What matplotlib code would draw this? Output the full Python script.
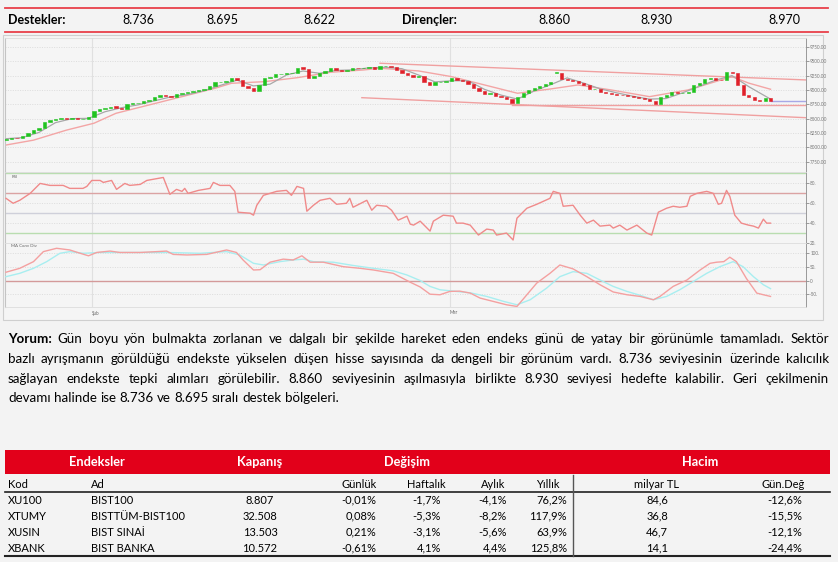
import matplotlib
matplotlib.use("Agg")
import matplotlib.pyplot as plt
from matplotlib.lines import Line2D
from matplotlib.patches import Rectangle

W, H = 838, 562
plt.rcParams['font.family'] = ['Lato', 'DejaVu Sans']

# ---- header levels
supports = ['8.736', '8.695', '8.622']
resistances = ['8.860', '8.930', '8.970']

# ---- candles
closes = [8150, 8165, 8160, 8200, 8250, 8300, 8330, 8440, 8470, 8500,
          8510, 8500, 8505, 8495, 8500, 8520, 8640, 8660, 8690, 8710,
          8680, 8670, 8760, 8770, 8780, 8800, 8830, 8870, 8910, 8890,
          8870, 8930, 8945, 8960, 8990, 9000, 9010, 9070, 9130, 9140,
          9150, 9210, 9170, 9060, 9030, 8990, 9080, 9200, 9230, 9270,
          9285, 9290, 9300, 9390, 9370, 9210, 9250, 9290, 9330, 9380,
          9340, 9330, 9345, 9380, 9375, 9385, 9400, 9370, 9410, 9420,
          9400, 9340, 9290, 9260, 9230, 9250, 9130, 9080, 9130, 9135,
          9150, 9200, 9180, 9150, 9100, 9040, 8980, 8930, 8950, 8890,
          8870, 8850, 8770, 8880, 8950, 9000, 9040, 9060, 9100, 9130,
          9310, 9190, 9170, 9150, 9120, 9080, 9010, 9020, 8970, 8950,
          8930, 8920, 8905, 8890, 8870, 8860, 8850, 8800, 8760, 8880,
          8920, 8960, 8950, 8955, 8970, 9080, 9120, 9190, 9200, 9180,
          9170, 9320, 9300, 9080, 8920, 8870, 8830, 8810, 8860, 8807]
opens = [8130, 8150, 8170, 8165, 8200, 8250, 8300, 8340, 8440, 8470,
         8500, 8515, 8495, 8505, 8495, 8500, 8520, 8640, 8660, 8690,
         8715, 8685, 8670, 8760, 8770, 8780, 8800, 8830, 8870, 8915,
         8895, 8870, 8930, 8945, 8960, 8990, 9000, 9010, 9070, 9130,
         9140, 9150, 9215, 9170, 9060, 9030, 8990, 9080, 9200, 9230,
         9270, 9285, 9290, 9300, 9395, 9370, 9210, 9250, 9290, 9330,
         9385, 9340, 9330, 9345, 9385, 9375, 9385, 9400, 9370, 9410,
         9425, 9400, 9340, 9290, 9260, 9230, 9250, 9130, 9080, 9130,
         9135, 9150, 9200, 9180, 9150, 9100, 9040, 8980, 8930, 8950,
         8890, 8870, 8850, 8770, 8880, 8950, 9000, 9040, 9060, 9100,
         9290, 9300, 9190, 9170, 9150, 9120, 9080, 9010, 9020, 8970,
         8950, 8930, 8920, 8905, 8890, 8870, 8860, 8850, 8800, 8760,
         8880, 8920, 8960, 8950, 8955, 8970, 9080, 9120, 9190, 9200,
         9180, 9170, 9320, 9300, 9080, 8920, 8870, 8830, 8810, 8860]

ma_short_idx = [0, 3, 6, 9, 12, 15, 18, 21, 24, 27, 30, 33, 36, 39, 42, 45, 48, 51, 54, 57,
                60, 63, 66, 69, 72, 75, 78, 81, 84, 87, 90, 93, 96, 99, 102, 105, 108, 111,
                114, 117, 120, 123, 126, 129, 132, 135, 139]
ma_short_val = [8150, 8170, 8260, 8430, 8500, 8505, 8620, 8690, 8740, 8810, 8880, 8920, 8985,
                9080, 9170, 9070, 9100, 9260, 9330, 9290, 9340, 9350, 9385, 9395, 9370, 9260,
                9140, 9160, 9160, 9010, 8910, 8840, 8980, 9090, 9210, 9120, 9020, 8950, 8890,
                8840, 8850, 8950, 9060, 9170, 9250, 9060, 8840]

ma_long_idx = [0, 5, 11, 16, 20, 26, 32, 38, 41, 47, 53, 59, 65, 68, 75, 81, 87, 93, 99,
               104, 110, 117, 124, 132, 135, 139]
ma_long_val = [8040, 8125, 8300, 8420, 8593, 8738, 8883, 9029, 9116, 9144, 9214, 9308, 9348,
               9378, 9331, 9232, 9087, 8942, 9017, 9087, 9000, 8883, 9000, 9232, 9120, 9012]

# analyst trend lines: (start idx, start price, end idx, end price)
trend_upper = (68, 9465, 145.5, 9174)
trend_lower = (64.7, 8865, 145.5, 8516)
support_line = (92, 8745, 145.5, 8745)
last_price = 8807

rsi_idx = [0, 1.3, 2.5, 4.4, 6.2, 8, 10.4, 11.6, 14, 14.7, 15.6, 17.1, 17.7, 19.2, 20.1, 21.6,
           22.5, 24.4, 25.6, 28.6, 29.8, 31, 32, 32.5, 33.1, 35, 37.1, 37.7, 38.9, 40.7, 41.6,
           42.2, 44.4, 45, 45.6, 46.8, 49.2, 51, 51.9, 52.9, 54.1, 54.7, 55.9, 57.1, 58.9,
           60.1, 61.9, 62.5, 63.1, 65.6, 66.5, 67.4, 69.2, 70.1, 71.3, 72.9, 73.5, 74.1, 75.3,
           77.1, 77.7, 79.5, 81.3, 81.9, 83.1, 84.4, 85.9, 87.4, 88.6, 89.2, 91, 92.2, 92.9,
           94.7, 96.5, 98.9, 99.5, 100.7, 101.3, 103.1, 104.4, 105.6, 106.8, 108, 109.8, 110.4,
           111.6, 112.9, 114.7, 116.5, 117.4, 118.6, 120.1, 121.3, 122.5, 123.8, 124.4, 125.6,
           127.4, 128.6, 129.5, 130.1, 131, 131.6, 132.5, 133.7, 135, 135.9, 136.8, 137.7,
           138.3, 139]
rsi_val = [65, 60, 63, 70, 80, 78, 78, 75, 75, 77, 83, 83, 81, 83, 74, 80,
           78, 79, 83, 86, 69, 74, 72, 75, 70, 73, 75, 81, 78, 78, 72,
           51, 50, 48, 58, 68, 72, 73, 68, 77, 75, 52, 58, 63, 65,
           59, 60, 65, 56, 63, 53, 58, 57, 53, 43, 47, 39, 38, 42,
           32, 42, 48, 47, 40, 40, 38, 28, 34, 33, 28, 30, 23, 45,
           55, 59, 65, 72, 70, 57, 58, 48, 40, 43, 37, 38, 35,
           38, 33, 38, 30, 28, 51, 55, 57, 56, 57, 67, 70,
           72, 70, 59, 60, 73, 67, 48, 40, 38, 37, 35, 44,
           40, 40]

macd_idx = [0, 2.5, 5, 6.8, 9.2, 11.6, 13.5, 15, 16.5, 18.9, 20.7, 24.4, 27.4, 29.2, 30.4,
            32.9, 36.5, 40.1, 41.9, 43.1, 45, 46.2, 48, 50.4, 52.2, 53.8, 55.3, 57.7, 59.5,
            61.3, 64.4, 66.8, 70.4, 73.5, 75.3, 77.1, 78.9, 80.7, 82.5, 84.4, 86.2, 88.6, 91,
            92.9, 94.7, 96.5, 98.9, 100.7, 103.1, 105.6, 108, 110.4, 112.9, 115.3, 117.7,
            118.9, 121.3, 123.8, 126.2, 128, 129.2, 130.5, 131.6, 132.8, 134.6, 136.5, 137.7, 139]
macd_val = [30, 44, 68, 104, 116, 110, 98, 89, 101, 106, 101, 101, 104, 106, 94,
            92, 94, 110, 101, 74, 38, 39, 66, 77, 74, 89, 66, 66, 58,
            50, 44, 38, 26, -6, -23, -49, -51, -39, -38, -45, -63, -75, -87,
            -93, -51, -9, 26, 56, 42, 14, -15, -41, -51, -57, -69,
            -57, -21, 2, 38, 62, 66, 68, 84, 68, 8, -45, -51, -57]
signal_idx = [0, 2.5, 5, 7.4, 9.8, 11.6, 14.1, 17.1, 23.2, 29.2, 35.3, 40.1, 42.5, 45, 46.8,
              49.8, 52.2, 54.1, 55.9, 59.5, 63.2, 66.8, 70.4, 72.9, 75.3, 77.1, 78.9, 81.3,
              84.4, 87.4, 90.5, 92.9, 95.3, 98.3, 100.7, 103.1, 105.6, 108, 110.4, 112.9,
              115.3, 117.7, 120.1, 122.5, 125, 127.4, 129.8, 132.2, 134, 135.9, 137.7, 139]
signal_val = [14, 26, 44, 68, 98, 104, 98, 101, 101, 101, 98, 104, 92, 62, 56,
              68, 74, 77, 68, 66, 54, 44, 35, 20, 0, -21, -33, -38,
              -44, -57, -75, -87, -69, -27, 14, 32, 26, 2, -21, -39,
              -53, -69, -57, -33, -3, 26, 50, 68, 50, 14, -15, -29]

price_ticks = [7750, 8000, 8250, 8500, 8750, 9000, 9250, 9500, 9750]
rsi_ticks = [20, 40, 60, 80]
macd_ticks = [-50, 0, 50, 100]
date_ticks = [15.6, 80.7]
date_labels = ['Şub', 'Mar']

# ---- comment text
comment_lines = [
    "Yorum: Gün boyu yön bulmakta zorlanan ve dalgalı bir şekilde hareket eden endeks günü de yatay bir görünümle tamamladı. Sektör",
    "bazlı ayrışmanın görüldüğü endekste yükselen düşen hisse sayısında da dengeli bir görünüm vardı. 8.736 seviyesinin üzerinde kalıcılık",
    "sağlayan endekste tepki alımları görülebilir. 8.860 seviyesinin aşılmasıyla birlikte 8.930 seviyesi hedefte kalabilir. Geri çekilmenin",
    "devamı halinde ise 8.736 ve 8.695 sıralı destek bölgeleri.",
]

# ---- table
groups = ['Endeksler', 'Kapanış', 'Değişim', 'Hacim']
columns = ['Kod', 'Ad', 'Günlük', 'Haftalık', 'Aylık', 'Yıllık', 'milyar TL', 'Gün.Değ']
codes = ['XU100', 'XTUMY', 'XUSIN', 'XBANK']
names = ['BIST100', 'BISTTÜM-BIST100', 'BIST SINAİ', 'BIST BANKA']
close_tbl = ['8.807', '32.508', '13.503', '10.572']
daily = ['-0,01%', '0,08%', '0,21%', '-0,61%']
weekly = ['-1,7%', '-5,3%', '-3,1%', '4,1%']
monthly = ['-4,1%', '-8,2%', '-5,6%', '4,4%']
yearly = ['76,2%', '117,9%', '63,9%', '125,8%']
volume = ['84,6', '36,8', '46,7', '14,1']
vol_chg = ['-12,6%', '-15,5%', '-12,1%', '-24,4%']

BG = '#f3f3f3'
RED = '#e2001a'

fig = plt.figure(figsize=(W / 100, H / 100), dpi=100)
fig.patch.set_facecolor(BG)


def fx(x):
    return x / W


def fy(y):
    return 1 - y / H


def add_ax(x0, y0, x1, y1):
    return fig.add_axes([fx(x0), fy(y1), (x1 - x0) / W, (y1 - y0) / H])


def hline(x0, x1, y, color, lw):
    fig.add_artist(Line2D([fx(x0), fx(x1)], [fy(y), fy(y)], color=color, lw=lw))


# ---------------- header strip
hline(5, 828, 7.5, '#e8404a', 1.3)
hline(5, 828, 32, '#e8404a', 1.3)
fig.text(fx(8), fy(20.5), 'Destekler:', fontsize=9, fontweight='bold', va='center')
fig.text(fx(402), fy(20.5), 'Dirençler:', fontsize=9, fontweight='bold', va='center')
for v, xc in zip(supports + resistances, [138, 222, 319, 554, 656, 784]):
    fig.text(fx(xc), fy(20.5), v, fontsize=9, ha='center', va='center')

# ---------------- chart
fig.add_artist(Rectangle((fx(3), fy(320)), (823 - 3) / W, (320 - 35) / H,
                         transform=fig.transFigure, fc='#f5f5f5', ec='#cfcfcf', lw=0.8, zorder=0))
XL = (-0.18, 145.45)


def style(ax, ylim, ticks, labels):
    ax.set_xlim(XL)
    ax.set_ylim(ylim)
    ax.set_facecolor('#f5f5f5')
    ax.set_xticks([])
    ax.yaxis.tick_right()
    ax.set_yticks(ticks)
    ax.set_yticklabels(labels, fontsize=3.3, color='#666')
    ax.tick_params(axis='y', length=2, width=0.5, pad=1, colors='#777')
    for t in ticks:
        ax.axhline(t, color='#d4d4d4', lw=0.5, ls=(0, (1.5, 2)), zorder=0)
    for d in date_ticks:
        ax.axvline(d, color='#e0e0e0', lw=0.8, zorder=0)
    for s in ['top', 'bottom']:
        ax.spines[s].set_color('#dcdcdc')
        ax.spines[s].set_linewidth(0.6)
    ax.spines['left'].set_color('#c4c4c4')
    ax.spines['left'].set_linewidth(0.8)
    ax.spines['right'].set_color('#8a8a8a')
    ax.spines['right'].set_linewidth(0.6)


axp = add_ax(5, 38, 806, 172)
style(axp, (7570, 9905), price_ticks, ['%d.00' % t for t in price_ticks])
idx = list(range(len(closes)))
cols = ['#1fc41f' if c > o else '#e0202a' for o, c in zip(opens, closes)]
axp.bar(idx, [c - o for o, c in zip(opens, closes)], bottom=opens, width=0.55,
        color=cols, edgecolor=cols, linewidth=0.4, zorder=4)
axp.plot(ma_long_idx, ma_long_val, color='#f3a5a5', lw=1.0, zorder=2)
axp.plot(ma_short_idx, ma_short_val, color='#a8a8a8', lw=0.9, zorder=3)
for x0, p0, x1, p1 in [trend_upper, trend_lower, support_line]:
    axp.plot([x0, x1], [p0, p1], color='#f0a0a0', lw=1.0, zorder=2)
axp.plot([len(closes) - 1, XL[1]], [last_price, last_price], color='#a8a8e6', lw=1.0, zorder=2)

axr = add_ax(5, 172, 806, 243)
style(axr, (20, 91.5), rsi_ticks, ['%d.' % t for t in rsi_ticks])
axr.axhline(90, color='#b9ddb0', lw=1.0)
axr.axhline(70, color='#dba3a3', lw=1.0)
axr.axhline(50, color='#cfd0da', lw=1.0)
axr.axhline(30, color='#b9ddb0', lw=1.0)
axr.plot(rsi_idx, rsi_val, color='#f08a8a', lw=1.0, zorder=3)
axr.text(1, 88, 'RSI', fontsize=3.2, color='#666', va='top')

axm = add_ax(5, 243, 806, 307)
style(axm, (-95, 135), macd_ticks, ['-50.', '0', '50.', '100.'])
axm.axhline(0, color='#d49a9a', lw=1.0)
axm.plot(signal_idx, signal_val, color='#a8eef0', lw=1.0, zorder=3)
axm.plot(macd_idx, macd_val, color='#f4a0a0', lw=1.0, zorder=4)
axm.text(1, 130, 'MA Conv Div', fontsize=3.2, color='#666', va='top')

for d, lab in zip(date_ticks, date_labels):
    fig.text(fx(6 + d * 5.5), fy(313), lab, fontsize=3.3, color='#666', ha='left', va='center')

# ---------------- comment paragraph (justified)
ren = fig.canvas.get_renderer()


def widths(words, fs):
    out = []
    for k, w in enumerate(words):
        t = fig.text(0, 0, w, fontsize=fs, fontweight='bold' if w == 'Yorum:' else 'normal')
        out.append(t.get_window_extent(ren).width)
        t.remove()
    return out


t = fig.text(0, 0, 'a a', fontsize=10)
t2 = fig.text(0, 0, 'aa', fontsize=10)
space10 = t.get_window_extent(ren).width - t2.get_window_extent(ren).width
t.remove()
t2.remove()

left, right = 8, 829
nat = [sum(widths(l.split(), 10)) + space10 * 0.8 * (len(l.split()) - 1) for l in comment_lines[:3]]
fs = min(9.6, 10 * (right - left) / max(nat))
line_y = [339, 359, 379, 398]
for k, line in enumerate(comment_lines):
    words = line.split()
    ws = widths(words, fs)
    if k < 3:
        gap = (right - left - sum(ws)) / (len(words) - 1)
    else:
        gap = space10 * fs / 10
    x = left
    for w, wd in zip(words, ws):
        fig.text(fx(x), fy(line_y[k]), w, fontsize=fs, va='center',
                 fontweight='bold' if w == 'Yorum:' else 'normal')
        x += wd + gap

# ---------------- table
fig.add_artist(Rectangle((fx(5), fy(474)), 825 / W, 24 / H, transform=fig.transFigure,
                         fc=RED, ec='none'))
for g, xc in zip(groups, [97, 260, 407, 700]):
    fig.text(fx(xc), fy(462), g, color='white', fontweight='bold', fontsize=9.2,
             ha='center', va='center')

col_x = [8, 91, 377, 446, 505, 560, 656, 783]
col_ha = ['left', 'left', 'right', 'right', 'right', 'right', 'center', 'center']
for c, xc, ha in zip(columns, col_x, col_ha):
    fig.text(fx(xc), fy(484), c, fontsize=8, ha=ha, va='center')

hline(5, 830, 492, '#222222', 1.2)
hline(5, 830, 556, '#222222', 1.5)
fig.add_artist(Line2D([fx(573), fx(573)], [fy(475), fy(556)], color='#555555', lw=1.0))

row_y = [500, 516, 532, 548]
val_x = [8, 91, 260, 376, 441, 507, 567, 657, 785]
val_ha = ['left', 'left', 'center', 'right', 'right', 'right', 'right', 'center', 'center']
for r in range(len(codes)):
    vals = [codes[r], names[r], close_tbl[r], daily[r], weekly[r], monthly[r],
            yearly[r], volume[r], vol_chg[r]]
    for v, xc, ha in zip(vals, val_x, val_ha):
        fig.text(fx(xc), fy(row_y[r]), v, fontsize=8, ha=ha, va='center')

fig.savefig('out.png', dpi=100, facecolor=fig.get_facecolor())
